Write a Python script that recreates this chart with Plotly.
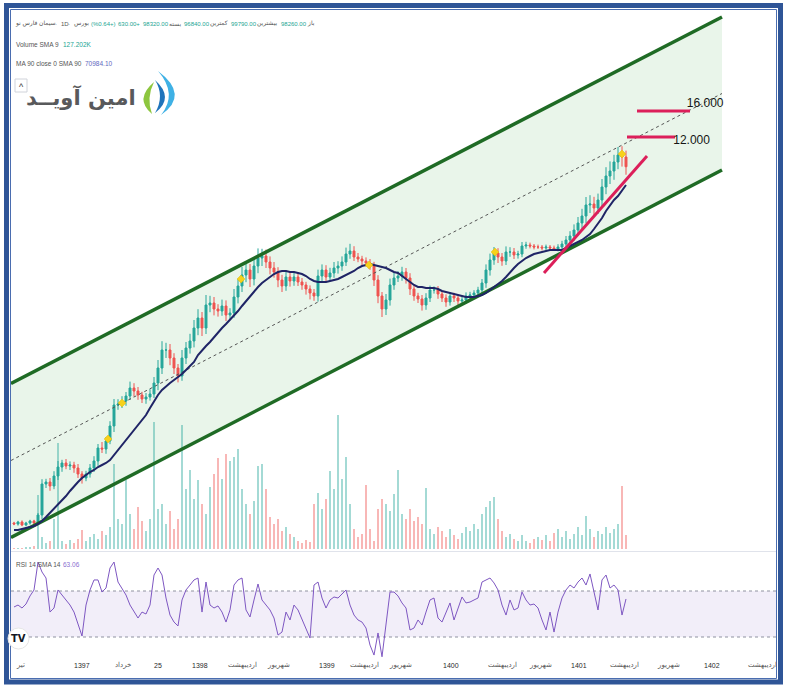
import plotly.graph_objects as go

W, H = 790, 692
def X(px): return px / W
def Y(py): return 1 - py / H

# ---------------- data (price in thousands) ----------------
closes = [9.0, 9.5, 8.75, 9.25, 9.75, 9.25, 11.25, 19.0, 19.5, 18.5,
          21.0, 23.25, 24.25, 23.5, 23.75, 23.0, 21.5, 20.5, 21.5, 23.0,
          24.75, 28.0, 27.75, 29.75, 33.5, 38.75, 39.0, 39.75, 41.0, 43.0,
          42.25, 41.25, 40.25, 40.75, 41.5, 44.25, 48.0, 52.5, 52.5, 50.5,
          48.0, 46.0, 50.5, 53.0, 54.75, 58.0, 60.5, 58.0, 63.75, 64.25,
          62.75, 62.25, 63.5, 61.25, 61.75, 65.75, 68.5, 71.25, 72.5, 70.25,
          73.5, 75.5, 76.0, 74.5, 73.0, 72.0, 70.0, 68.5, 70.75, 69.75,
          70.75, 69.5, 68.75, 67.75, 66.75, 66.0, 71.0, 72.5, 70.75, 71.75,
          73.0, 73.5, 74.5, 76.5, 77.25, 75.75, 75.25, 74.75, 74.25, 73.75,
          70.0, 66.0, 62.75, 65.0, 68.75, 70.5, 71.0, 72.0, 70.5, 67.75,
          66.0, 65.25, 63.75, 65.5, 67.5, 67.5, 66.5, 65.5, 64.5, 66.0,
          65.5, 64.75, 65.0, 66.0, 66.25, 66.75, 67.5, 69.25, 72.5, 75.0,
          76.75, 75.75, 74.75, 77.0, 77.0, 76.25, 76.5, 78.5, 78.75, 78.5,
          78.25, 78.25, 78.0, 78.25, 78.0, 77.75, 78.25, 79.0, 80.0, 81.0,
          82.5, 84.25, 86.0, 88.75, 89.0, 88.0, 90.0, 93.25, 96.0, 97.25,
          99.5, 101.25, 100.75, 98.32]
first_open = 9.25
upper_wick = [0.3, 0.3, 0.4, 0.3, 0.3, 0.3, 0.5, 1.2, 0.8, 1.0,
              1.2, 1.5, 0.8, 1.0, 0.9, 0.8, 1.0, 0.7, 0.8, 1.0,
              1.2, 1.0, 1.5, 1.0, 1.2, 1.5, 1.2, 1.2, 1.0, 1.6,
              1.2, 1.0, 0.8, 1.0, 1.2, 1.5, 2.0, 2.2, 1.8, 1.5,
              1.2, 1.0, 2.0, 1.5, 1.8, 2.0, 2.2, 1.5, 2.5, 1.8,
              1.5, 1.2, 1.6, 1.4, 1.2, 2.0, 1.8, 2.0, 2.2, 1.5,
              2.0, 2.4, 1.8, 1.6, 1.4, 1.5, 1.2, 1.3, 1.6, 1.2,
              1.0, 1.2, 1.0, 0.8, 0.9, 1.0, 1.6, 1.4, 1.2, 1.3,
              1.5, 1.2, 1.4, 1.6, 1.8, 1.2, 1.0, 0.8, 0.9, 1.0,
              0.8, 1.2, 1.0, 1.5, 1.6, 1.4, 1.2, 1.3, 1.0, 1.2,
              0.9, 0.8, 1.0, 1.2, 1.1, 0.9, 1.0, 0.8, 0.9, 1.0,
              0.8, 0.7, 0.8, 0.9, 0.8, 0.7, 0.8, 1.0, 1.4, 1.6,
              1.5, 1.2, 1.0, 1.4, 1.2, 1.0, 0.8, 1.0, 0.8, 0.6,
              0.5, 0.6, 0.5, 0.6, 0.5, 0.6, 0.7, 0.8, 1.0, 1.2,
              1.4, 1.5, 1.8, 2.0, 2.2, 1.8, 1.6, 2.0, 2.2, 2.4,
              1.8, 2.0, 2.2, 1.6]
lower_wick = [0.3, 0.4, 0.3, 0.3, 0.4, 0.3, 0.4, 1.0, 1.0, 1.2,
              0.8, 1.0, 1.2, 0.8, 1.0, 1.2, 1.0, 1.4, 0.8, 0.9,
              1.0, 1.2, 1.0, 1.2, 0.8, 1.5, 1.2, 1.0, 1.2, 1.0,
              1.4, 1.2, 1.0, 1.2, 0.9, 1.0, 1.8, 1.5, 2.0, 1.8,
              1.5, 1.6, 1.2, 1.5, 1.4, 1.6, 1.8, 2.0, 1.5, 1.8,
              1.6, 1.4, 1.2, 1.5, 1.3, 1.2, 1.6, 1.5, 1.8, 2.0,
              1.6, 1.8, 2.0, 1.5, 1.6, 1.4, 1.8, 1.5, 1.2, 1.4,
              1.2, 1.0, 1.2, 1.4, 1.6, 1.2, 1.4, 1.6, 1.2, 1.0,
              1.2, 1.4, 1.2, 1.0, 1.2, 1.0, 0.8, 1.0, 0.9, 1.2,
              1.5, 1.8, 2.0, 1.5, 1.4, 1.2, 1.0, 1.2, 1.4, 1.5,
              1.2, 1.0, 1.4, 1.2, 1.0, 0.9, 1.2, 1.0, 1.2, 0.9,
              1.0, 1.1, 0.8, 0.9, 0.8, 0.8, 0.9, 1.0, 1.2, 1.4,
              1.2, 1.5, 1.2, 1.0, 1.2, 1.0, 0.9, 0.8, 0.7, 0.6,
              0.6, 0.5, 0.6, 0.5, 0.6, 0.5, 0.6, 0.8, 0.9, 1.0,
              1.2, 1.4, 1.6, 1.8, 2.0, 2.2, 1.5, 1.6, 1.8, 2.0,
              2.2, 1.8, 2.4, 2.0]
sma90 = [7.5, 7.5, 7.75, 8.0, 8.25, 8.5, 9.0, 9.75, 10.75, 11.75,
         12.75, 13.75, 14.75, 16.0, 17.25, 18.5, 19.5, 20.5, 21.25, 22.0,
         22.5, 23.25, 23.75, 24.25, 25.0, 26.25, 27.5, 28.75, 29.75, 31.0,
         32.5, 33.75, 34.75, 36.25, 38.0, 39.75, 41.25, 42.5, 43.5, 44.25,
         45.0, 45.75, 46.5, 47.5, 48.5, 49.5, 51.25, 52.5, 53.5, 54.5,
         55.75, 57.0, 58.0, 59.0, 60.0, 61.0, 62.25, 63.5, 64.75, 65.75,
         67.0, 68.25, 69.25, 70.0, 70.75, 71.5, 72.0, 72.25, 72.25, 72.0,
         72.0, 71.75, 71.5, 71.0, 70.25, 69.75, 69.5, 69.5, 69.5, 69.75,
         70.0, 70.25, 70.75, 71.25, 71.75, 72.25, 73.0, 73.5, 73.75, 74.0,
         73.75, 73.5, 73.25, 73.0, 72.5, 72.0, 71.75, 71.0, 70.25, 69.5,
         68.75, 68.25, 68.25, 68.0, 68.0, 68.0, 67.75, 67.25, 67.0, 66.75,
         66.5, 66.25, 66.0, 65.75, 65.75, 65.75, 66.0, 66.25, 66.75, 67.5,
         68.25, 69.0, 69.75, 70.75, 72.0, 73.0, 74.0, 74.75, 75.5, 76.0,
         76.5, 76.75, 77.0, 77.25, 77.5, 77.5, 77.5, 77.5, 78.0, 78.5,
         79.0, 79.5, 80.0, 80.75, 81.5, 82.75, 84.0, 85.5, 87.25, 88.75,
         90.0, 91.0, 92.25, 93.75]
volume_k = [10, 10, 10, 20, 20, 30, 540, 120, 60, 80,
            300, 1060, 80, 50, 90, 60, 100, 190, 80, 120,
            150, 100, 180, 140, 220, 850, 300, 250, 690, 350,
            200, 420, 280, 180, 300, 1270, 400, 450, 250, 380,
            200, 300, 1240, 600, 790, 500, 690, 450, 350, 620,
            750, 910, 700, 950, 880, 920, 1000, 600, 450, 350,
            480, 830, 850, 600, 320, 250, 300, 180, 220, 150,
            120, 80, 60, 90, 70, 450, 560, 400, 500, 780,
            600, 1340, 700, 920, 450, 200, 120, 150, 640, 200,
            80, 400, 500, 450, 380, 550, 790, 350, 300, 400,
            280, 320, 250, 610, 200, 150, 220, 180, 120, 200,
            140, 100, 160, 220, 180, 250, 200, 350, 420, 480,
            520, 300, 180, 120, 150, 100, 80, 140, 80, 60,
            100, 120, 90, 140, 80, 160, 200, 120, 180, 100,
            150, 220, 140, 330, 200, 120, 180, 150, 220, 160,
            200, 250, 630, 140]
rsi14 = [56.1, 57.8, 55.2, 58.7, 65.7, 70.9, 95.2, 86.5, 81.3, 51.7,
         55.2, 70.9, 66.5, 62.2, 57.8, 51.7, 40.4, 30.9, 57.8, 70.9,
         79.6, 79.6, 69.1, 72.6, 90.0, 95.2, 77.8, 72.6, 66.5, 57.8,
         51.7, 46.5, 51.7, 50.0, 57.8, 83.9, 90.0, 83.9, 63.9, 49.1,
         43.0, 39.6, 62.2, 70.9, 75.2, 79.6, 81.3, 51.7, 77.8, 57.8,
         55.2, 57.0, 51.7, 43.0, 53.5, 75.2, 79.6, 81.3, 53.5, 47.4,
         62.2, 76.1, 62.2, 57.8, 53.5, 46.5, 31.7, 34.3, 51.7, 44.8,
         57.8, 53.5, 44.8, 37.8, 29.1, 75.2, 77.8, 63.9, 55.2, 62.2,
         64.8, 63.9, 67.4, 70.9, 57.8, 49.1, 44.8, 43.0, 37.8, 23.0,
         14.3, 33.5, 12.8, 40.4, 69.1, 69.1, 65.7, 59.6, 55.2, 36.1,
         37.8, 44.8, 40.4, 51.7, 62.2, 63.9, 46.5, 43.0, 51.7, 59.6,
         44.8, 55.2, 64.8, 59.6, 60.4, 62.2, 63.9, 77.8, 79.6, 81.3,
         77.0, 70.9, 57.8, 49.1, 62.2, 53.5, 55.2, 69.1, 62.2, 57.8,
         58.7, 55.2, 44.8, 36.1, 51.7, 34.3, 51.7, 63.9, 70.9, 75.2,
         72.6, 77.8, 81.3, 75.2, 84.8, 69.1, 53.5, 79.6, 83.9, 72.6,
         75.2, 70.9, 49.1, 63.06]

# channel (candle index, price)
channel_x = [-0.75, 177]
channel_upper = [44.125, 135.75]
channel_lower = [5.625, 97.5]
channel_mid = [24.875, 116.625]

# target levels
target_labels = ["16.000", "12.000"]
target_x = [[155.75, 169.0], [153.25, 165.25]]
target_y = [112.25, 105.75]
target_label_x = [172.8, 169.4]
target_label_y = [114.0, 104.75]
trend_x = [132.5, 158.25]
trend_y = [71.75, 101.0]

event_idx = [23.5, 27, 56.75, 88.75, 120.25, 152]
event_val = [30.25, 39.25, 70.25, 73.75, 77.0, 101.5]

tick_text = ["تیر", "1397", "خرداد", "25", "1398", "اردیبهشت", "شهریور", "1399",
             "اردیبهشت", "شهریور", "1400", "اردیبهشت", "شهریور", "1401",
             "اردیبهشت", "شهریور", "1402", "اردیبهشت"]
tick_idx = [1.5, 17, 27.25, 36, 46.5, 57, 66, 78.25, 87.5, 96.5, 109.25, 122,
            131.5, 141.25, 152.5, 163.5, 174.5, 187]

# ---------------- derived ----------------
n = len(closes)
idx = list(range(n))
opens = [first_open] + closes[:-1]
highs = [max(o, c) + u for o, c, u in zip(opens, closes, upper_wick)]
lows = [min(o, c) - l for o, c, l in zip(opens, closes, lower_wick)]
vol_colors = ['rgba(38,166,154,0.42)' if c >= o else 'rgba(239,83,80,0.42)'
              for o, c in zip(opens, closes)]

fig = go.Figure()

fig.add_trace(go.Bar(x=idx, y=volume_k, marker=dict(color=vol_colors, line=dict(width=0)),
                     width=0.5, xaxis='x', yaxis='y', hoverinfo='skip'))

green = '#1f6b25'
fig.add_trace(go.Scatter(x=channel_x, y=channel_upper, mode='lines', yaxis='y2',
                         line=dict(color=green, width=3.5)))
fig.add_trace(go.Scatter(x=channel_x, y=channel_lower, mode='lines', yaxis='y2',
                         line=dict(color=green, width=3.5)))
fig.add_trace(go.Scatter(x=channel_x, y=channel_mid, mode='lines', yaxis='y2',
                         line=dict(color='#555555', width=1, dash='3px,3px')))

fig.add_trace(go.Candlestick(x=idx, open=opens, high=highs, low=lows, close=closes,
                             yaxis='y2',
                             increasing=dict(line=dict(color='#26a69a', width=1), fillcolor='#26a69a'),
                             decreasing=dict(line=dict(color='#ef5350', width=1), fillcolor='#ef5350'),
                             whiskerwidth=0))
fig.add_trace(go.Scatter(x=idx, y=sma90, mode='lines', yaxis='y2',
                         line=dict(color='#1f2466', width=2)))

red = '#dc1f5a'
for tx, ty in zip(target_x, target_y):
    fig.add_trace(go.Scatter(x=tx, y=[ty, ty], mode='lines', yaxis='y2',
                             line=dict(color=red, width=3)))
fig.add_trace(go.Scatter(x=trend_x, y=trend_y, mode='lines', yaxis='y2',
                         line=dict(color=red, width=3)))
fig.add_trace(go.Scatter(x=target_label_x, y=target_label_y, mode='text', yaxis='y2',
                         text=target_labels,
                         textfont=dict(family='Liberation Sans, Arial, sans-serif',
                                       size=12, color='#151515')))
fig.add_trace(go.Scatter(x=event_idx, y=event_val, mode='markers', yaxis='y2',
                         marker=dict(symbol='diamond', size=6, color='#f7d21b',
                                     line=dict(color='#e0b400', width=0.5))))

fig.add_trace(go.Scatter(x=idx, y=rsi14, mode='lines', xaxis='x', yaxis='y3',
                         line=dict(color='#7e57c2', width=1)))

# ---------------- layout ----------------
price_dom = [Y(551), Y(12)]
rsi_dom = [Y(657), Y(552)]
rsi_lo = 70 - (657 - 591) / 1.15
rsi_hi = 70 + (591 - 552) / 1.15

shapes = []
path = "M {},{} L {},{} L {},{} L {},{} Z".format(
    channel_x[0], channel_lower[0], channel_x[1], channel_lower[1],
    channel_x[1], channel_upper[1], channel_x[0], channel_upper[0])
shapes.append(dict(type='path', path=path, xref='x', yref='y2', layer='below',
                   fillcolor='rgba(76,175,80,0.12)', line=dict(width=0)))
shapes.append(dict(type='rect', xref='paper', yref='y3', x0=X(11), x1=X(777), y0=30, y1=70,
                   fillcolor='rgba(126,87,194,0.10)', line=dict(width=0), layer='below'))
for lv in (30, 70):
    shapes.append(dict(type='line', xref='paper', yref='y3', x0=X(11), x1=X(777), y0=lv, y1=lv,
                       line=dict(color='#8f92a0', width=1, dash='3px,3px'), layer='below'))
shapes.append(dict(type='line', xref='paper', yref='paper', x0=X(11), x1=X(777), y0=Y(551.5), y1=Y(551.5),
                   line=dict(color='#e0e3eb', width=1)))
# frame
shapes.append(dict(type='rect', xref='paper', yref='paper', x0=X(6.5), x1=X(780.5), y0=Y(682), y1=Y(5.5),
                   line=dict(color='#2f5597', width=5)))
shapes.append(dict(type='rect', xref='paper', yref='paper', x0=X(10.5), x1=X(776.5), y0=Y(678.5), y1=Y(9.5),
                   line=dict(color='#4a6db0', width=1)))
shapes.append(dict(type='rect', xref='paper', yref='paper', x0=X(15), x1=X(27), y0=Y(92), y1=Y(79),
                   fillcolor='white', line=dict(color='#d0d3da', width=1)))
shapes.append(dict(type='circle', xref='paper', yref='paper', x0=X(8), x1=X(29), y0=Y(649), y1=Y(628),
                   fillcolor='white', line=dict(color='#e6e6e6', width=1)))

def logo_path(pts):
    (ax, ay), (c1x, c1y), (bx, by), (c2x, c2y) = pts
    return "M {},{} Q {},{} {},{} Q {},{} {},{} Z".format(
        X(ax), Y(ay), X(c1x), Y(c1y), X(bx), Y(by), X(c2x), Y(c2y), X(ax), Y(ay))

shapes.append(dict(type='path', xref='paper', yref='paper',
                   path=logo_path([(154, 82), (134, 99), (152, 114), (146, 98)]),
                   fillcolor='#8dc63f', line=dict(width=0)))
shapes.append(dict(type='path', xref='paper', yref='paper',
                   path=logo_path([(158, 71), (190, 95), (161, 115), (178, 94)]),
                   fillcolor='#3fb1e5', line=dict(width=0)))
shapes.append(dict(type='path', xref='paper', yref='paper',
                   path=logo_path([(155, 80), (175, 98), (155, 113), (165, 96)]),
                   fillcolor='#1f74bb', line=dict(width=0)))

SANS = 'Liberation Sans, Arial, DejaVu Sans, sans-serif'
ann = []
def t(text, px, py, color='#555555', size=6, anchor='left', family=SANS, bold=False):
    ann.append(dict(text=('<b>%s</b>' % text) if bold else text, x=X(px), y=Y(py),
                    xref='paper', yref='paper', showarrow=False, xanchor=anchor, yanchor='middle',
                    font=dict(family=family, size=size, color=color)))

teal = '#22a593'
# header line (laid out left to right as displayed)
t("سیمان فارس نو", 13, 24)
t("·", 56, 24, anchor='center')
t("1D", 59, 24)
t("·", 69, 24, anchor='center')
t("بورس", 72, 24)
t("(%0.64+)", 89, 24, teal)
t("630.00+", 116, 24, teal)
t("98320.00", 141, 24, teal)
t("بسته", 167, 24)
t("96840.00", 182, 24, teal)
t("کمترین", 208, 24)
t("99790.00", 229, 24, teal)
t("بیشترین", 255, 24)
t("98260.00", 279, 24, teal)
t("باز", 305, 24)
t("Volume SMA 9", 14, 44, size=6.5)
t("127.202K", 61, 44, teal, size=6.5)
t("MA 90 close 0 SMA 90", 14, 64, size=6.5)
t("70984.10", 83, 64, '#6068c0', size=6.5)
t("RSI 14 SMA 14", 14, 564, size=6.5)
t("63.06", 61, 564, '#8a6fcf', size=6.5)
t("^", 21, 87, '#333333', size=9, anchor='center')
t("TV", 18.5, 638.5, '#131722', size=10, anchor='center', family='DejaVu Sans, sans-serif', bold=True)
t("امین آویــد", 138, 97, '#58595b', size=21, anchor='right', family='DejaVu Sans, sans-serif', bold=True)

for txt, ix in zip(tick_text, tick_idx):
    ann.append(dict(text=txt, x=ix, y=Y(665), xref='x', yref='paper', showarrow=False,
                    xanchor='center', yanchor='middle',
                    font=dict(family=SANS, size=7,
                              color='#2a2a2a' if txt.isdigit() else '#555555')))

hidden = dict(showgrid=False, zeroline=False, showticklabels=False, ticks='', showline=False)
fig.update_layout(
    width=W, height=H, margin=dict(l=0, r=0, t=0, b=0),
    paper_bgcolor='white', plot_bgcolor='rgba(0,0,0,0)', showlegend=False,
    xaxis=dict(domain=[X(11), X(777)], range=[-0.75, 190.75], rangeslider=dict(visible=False),
               anchor='y', **hidden),
    yaxis=dict(domain=price_dom, range=[-20, 5370], anchor='x', **hidden),
    yaxis2=dict(domain=price_dom, range=[2.25, 137], overlaying='y', anchor='x', **hidden),
    yaxis3=dict(domain=rsi_dom, range=[rsi_lo, rsi_hi], anchor='x', **hidden),
    shapes=shapes, annotations=ann,
)

fig.write_html("out.html", config={'displayModeBar': False},
               post_script="document.body.style.margin='0px';document.body.style.overflow='hidden';")
